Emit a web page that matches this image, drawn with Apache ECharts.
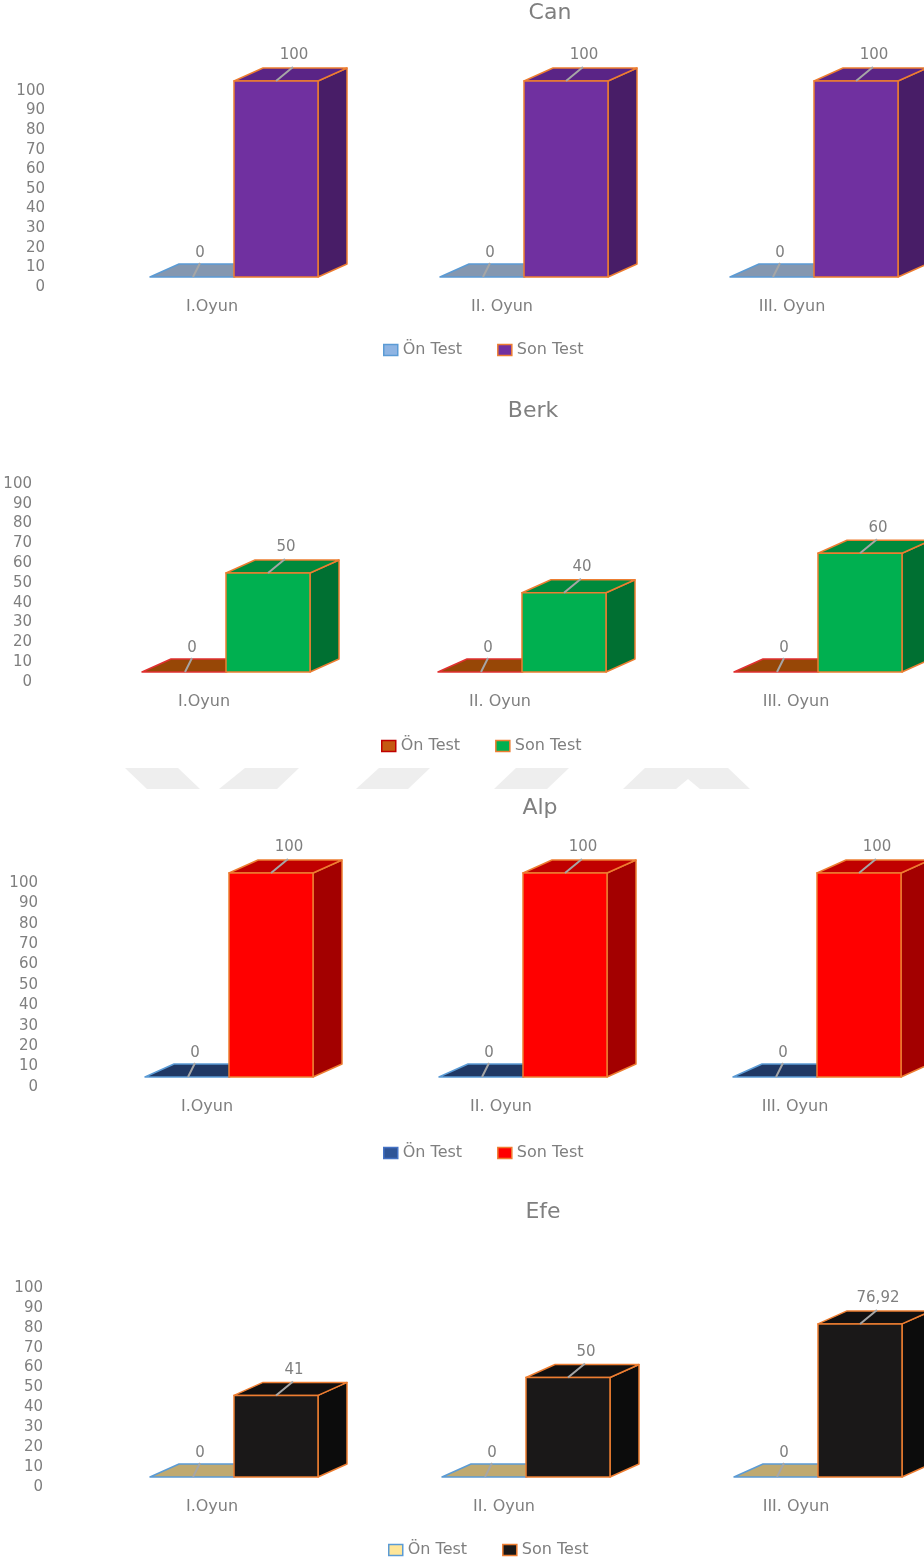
<!DOCTYPE html>
<html>
<head>
<meta charset="utf-8">
<script src="https://cdn.jsdelivr.net/npm/echarts@6/dist/echarts.min.js"></script>
<style>
html,body{margin:0;padding:0;background:#fff;}
#chart{width:924px;height:1564px;}
</style>
</head>
<body>
<div id="chart"></div>
<script>
// ---- data ----
var categories = ['I.Oyun', 'II. Oyun', 'III. Oyun'];
var students = ['Can', 'Berk', 'Alp', 'Efe'];
var seriesNames = ['Ön Test', 'Son Test'];
var canOn = [0, 0, 0];
var canSon = [100, 100, 100];
var berkOn = [0, 0, 0];
var berkSon = [50, 40, 60];
var alpOn = [0, 0, 0];
var alpSon = [100, 100, 100];
var efeOn = [0, 0, 0];
var efeSon = [41, 50, 76.92];
var yMin = 0, yMax = 100, yStep = 10;

// ---- styling ----
var FONT = '"DejaVu Sans", "Noto Sans", sans-serif';
var GREY = '#7f7f7f';
var ORANGE = '#ed7d31';
var BW = 84, SPLIT = 22, DX = 29, DY = -13, LIFT = 10;

var panels = [
  { name: 'Can', on: canOn, son: canSon,
    grid: {left: 212, width: 580, top: 91, height: 196}, yMargin: 167,
    title: {x: 550, y: 2}, legend: {left: 383, top: 342},
    onStyle: {top: '#8497b0', stroke: '#5b9bd5', icon: '#8eb4e3', iconBorder: '#5b9bd5'},
    sonStyle: {front: '#7030a0', top: '#5a2486', side: '#481d67'} },
  { name: 'Berk', on: berkOn, son: berkSon,
    grid: {left: 204, width: 592, top: 484, height: 198}, yMargin: 172,
    title: {x: 533, y: 400}, legend: {left: 381, top: 738},
    onStyle: {top: '#974706', stroke: '#e03030', icon: '#c55a11', iconBorder: '#c00000'},
    sonStyle: {front: '#00b050', top: '#008a3c', side: '#007032'} },
  { name: 'Alp', on: alpOn, son: alpSon,
    grid: {left: 207, width: 588, top: 883, height: 204}, yMargin: 169,
    title: {x: 540, y: 797}, legend: {left: 383, top: 1145},
    onStyle: {top: '#203864', stroke: '#5b9bd5', icon: '#2f5597', iconBorder: '#4472c4'},
    sonStyle: {front: '#ff0000', top: '#c00000', side: '#a30000'} },
  { name: 'Efe', on: efeOn, son: efeSon,
    grid: {left: 212, width: 584, top: 1288, height: 199}, yMargin: 169,
    title: {x: 543, y: 1201}, legend: {left: 388, top: 1542},
    onStyle: {top: '#bfa970', stroke: '#5b9bd5', icon: '#ffe699', iconBorder: '#5b9bd5'},
    sonStyle: {front: '#1a1818', top: '#121010', side: '#0c0c0c'} }
];

function fmt(v) { return String(v).replace('.', ','); }

function makeRender(isOn, st) {
  return function (params, api) {
    var ci = api.value(0), v = api.value(1);
    var base = api.coord([ci, 0]);
    var topP = api.coord([ci, v]);
    var x0 = isOn ? base[0] + SPLIT - BW : base[0] + SPLIT;
    var x1 = x0 + BW;
    var yb = base[1] - LIFT, yt = topP[1] - LIFT;
    var cx = (x0 + x1) / 2;
    var children = [];
    if (isOn) {
      children.push({ type: 'polygon', shape: { points: [[x0, yt], [x0 + DX, yt + DY], [x1 + DX, yt + DY], [x1, yt]] },
        style: { fill: st.top, stroke: st.stroke, lineWidth: 1.5, lineJoin: 'round' } });
      children.push({ type: 'line', shape: { x1: cx + 1, y1: yt, x2: cx + 8, y2: yt - 14 },
        style: { stroke: '#a6a6a6', lineWidth: 2 } });
      children.push({ type: 'text', style: { text: fmt(v), x: cx + 8, y: yt - 16, fill: GREY,
        fontSize: 15, fontFamily: FONT, align: 'center', verticalAlign: 'bottom' } });
    } else {
      children.push({ type: 'polygon', shape: { points: [[x1, yt], [x1 + DX, yt + DY], [x1 + DX, yb + DY], [x1, yb]] },
        style: { fill: st.side, stroke: ORANGE, lineWidth: 1.5, lineJoin: 'round' } });
      children.push({ type: 'polygon', shape: { points: [[x0, yt], [x0 + DX, yt + DY], [x1 + DX, yt + DY], [x1, yt]] },
        style: { fill: st.top, stroke: ORANGE, lineWidth: 1.5, lineJoin: 'round' } });
      children.push({ type: 'rect', shape: { x: x0, y: yt, width: BW, height: yb - yt },
        style: { fill: st.front, stroke: ORANGE, lineWidth: 1.5 } });
      children.push({ type: 'line', shape: { x1: cx, y1: yt, x2: cx + 17, y2: yt - 14 },
        style: { stroke: '#a6a6a6', lineWidth: 2 } });
      children.push({ type: 'text', style: { text: fmt(v), x: cx + 18, y: yt - 18, fill: GREY,
        fontSize: 15, fontFamily: FONT, align: 'center', verticalAlign: 'bottom' } });
    }
    return { type: 'group', children: children };
  };
}

var grids = [], xAxes = [], yAxes = [], series = [], titles = [], legends = [];
panels.forEach(function (p, i) {
  grids.push(p.grid);
  xAxes.push({ type: 'category', gridIndex: i, data: categories, boundaryGap: false,
    axisLine: { show: false }, axisTick: { show: false }, splitLine: { show: false },
    axisLabel: { margin: 12, color: GREY, fontSize: 16, fontFamily: FONT, interval: 0 } });
  yAxes.push({ type: 'value', gridIndex: i, min: yMin, max: yMax, interval: yStep,
    axisLine: { show: false }, axisTick: { show: false }, splitLine: { show: false },
    axisLabel: { margin: p.yMargin, color: GREY, fontSize: 15, fontFamily: FONT } });
  titles.push({ text: p.name, left: p.title.x, top: p.title.y, textAlign: 'center', padding: 0,
    textStyle: { color: GREY, fontSize: 22, fontWeight: 'normal', fontFamily: FONT } });
  var onName = p.name + '|' + seriesNames[0], sonName = p.name + '|' + seriesNames[1];
  series.push({ type: 'custom', name: onName, xAxisIndex: i, yAxisIndex: i, clip: false,
    itemStyle: { color: p.onStyle.icon }, renderItem: makeRender(true, p.onStyle),
    encode: { x: 0, y: 1 }, data: p.on.map(function (v, k) { return [k, v]; }) });
  series.push({ type: 'custom', name: sonName, xAxisIndex: i, yAxisIndex: i, clip: false,
    itemStyle: { color: p.sonStyle.front }, renderItem: makeRender(false, p.sonStyle),
    encode: { x: 0, y: 1 }, data: p.son.map(function (v, k) { return [k, v]; }) });
  legends.push({ left: p.legend.left, top: p.legend.top, padding: 0, itemGap: 35,
    itemWidth: 14, itemHeight: 11, selectedMode: false, icon: 'rect',
    formatter: function (n) { return n.split('|')[1]; },
    textStyle: { color: GREY, fontSize: 16, fontFamily: FONT },
    data: [
      { name: onName, itemStyle: { color: p.onStyle.icon, borderColor: p.onStyle.iconBorder, borderWidth: 1.5 } },
      { name: sonName, itemStyle: { color: p.sonStyle.front, borderColor: ORANGE, borderWidth: 1.5 } }
    ] });
});

var wm = '#eeeeee';
var graphic = [
  [[125, 768], [178, 768], [200, 789], [147, 789]],
  [[245, 768], [299, 768], [277, 789], [219, 789]],
  [[379, 768], [430, 768], [408, 789], [356, 789]],
  [[516, 768], [569, 768], [547, 789], [494, 789]],
  [[645, 768], [728, 768], [750, 789], [700, 789], [688, 779], [676, 789], [623, 789]]
].map(function (pts) {
  return { type: 'polygon', z: -10, silent: true, shape: { points: pts }, style: { fill: wm } };
});

var chart = echarts.init(document.getElementById('chart'), null, { renderer: 'canvas' });
chart.setOption({
  backgroundColor: '#ffffff',
  animation: false,
  title: titles,
  legend: legends,
  grid: grids,
  xAxis: xAxes,
  yAxis: yAxes,
  series: series,
  graphic: graphic
});
</script>
</body>
</html>
